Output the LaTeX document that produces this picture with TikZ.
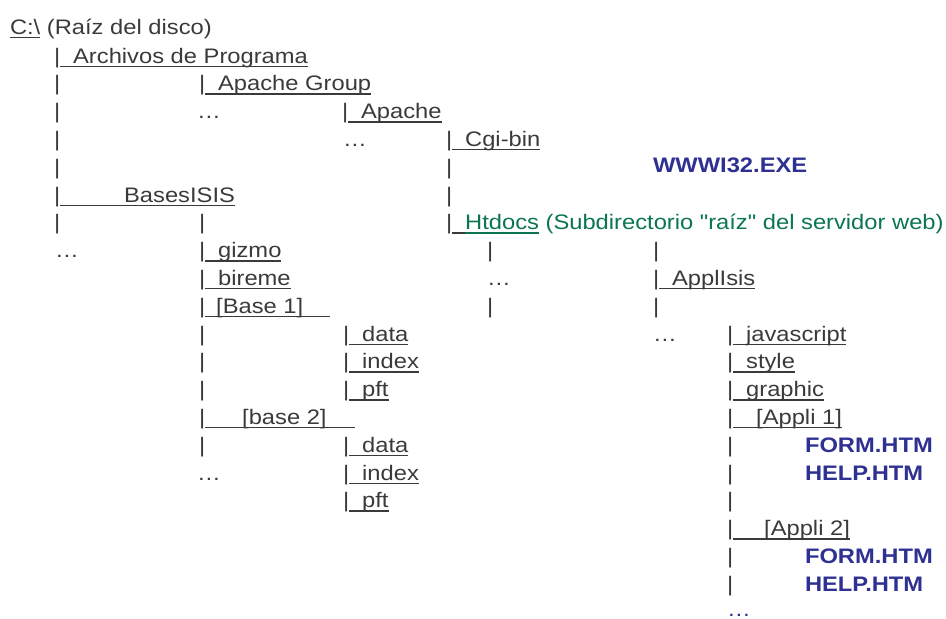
\documentclass[tikz,border=0pt]{standalone}
\usepackage{fontspec}
\setmainfont{Liberation Sans}[FakeStretch=1.13,Ligatures=TeXOff]
\definecolor{txt}{HTML}{3A3A3A}
\definecolor{blu}{HTML}{2E3192}
\definecolor{grn}{HTML}{0A7550}
\newsavebox\ulbox
\newcommand\ult[1]{\sbox\ulbox{#1}\rlap{\rule[-4pt]{\wd\ulbox}{1.5pt}}\usebox\ulbox}
\newcommand\ulr[1]{\rule[-4pt]{#1pt}{1.5pt}}
\begin{document}
\begin{tikzpicture}[x=1pt,y=-1pt,
  t/.style={anchor=base west,inner sep=0pt,outer sep=0pt,text=txt,font=\fontsize{21}{25}\selectfont},
  bl/.style={t,text=blu,font=\fontsize{21}{25}\selectfont\bfseries}]
\useasboundingbox (0,0) rectangle (946,619);
% row 0
\node[t] (c) at (10,34) {\ult{C:\textbackslash} (Raíz del disco)};
% row 1
\node[t] (r1a) at (54,63) {|\ulr{13}\ult{Archivos de Programa}};
% row 2
\node[t] (r2a) at (54,90.8) {|};
\node[t] (r2b) at (199,90.8) {|\ulr{13}\ult{Apache Group}};
% row 3
\node[t] (r3a) at (54,118.6) {|};
\node[t] (r3b) at (197,118.6) {…};
\node[t] (r3c) at (342,118.6) {|\ulr{13}\ult{Apache}};
% row 4
\node[t] (r4a) at (54,146.4) {|};
\node[t] (r4b) at (343,146.4) {…};
\node[t] (r4c) at (446,146.4) {|\ulr{13}\ult{Cgi-bin}};
% row 5
\node[t] (r5a) at (54,174.2) {|};
\node[t] (r5b) at (446,174.2) {|};
\node[bl] (www) at (653,172) {WWWI32.EXE};
% row 6
\node[t] (r6a) at (54,202) {|\ulr{64}\ult{BasesISIS}};
\node[t] (r6b) at (446,202) {|};
% row 7
\node[t] (r7a) at (54,229.8) {|};
\node[t] (r7b) at (199,229.8) {|};
\node[t] (r7c) at (446,229.8) {|\ulr{13}\textcolor{grn}{\ult{Htdocs} (Subdirectorio "raíz" del servidor web)}};
% row 8
\node[t] (r8a) at (55,257.6) {…};
\node[t] (r8b) at (199,257.6) {|\ulr{13}\ult{gizmo}};
\node[t] (r8c) at (487,257.6) {|};
\node[t] (r8d) at (653,257.6) {|};
% row 9
\node[t] (r9a) at (199,285.4) {|\ulr{13}\ult{bireme}};
\node[t] (r9b) at (487,285.4) {…};
\node[t] (r9c) at (653,285.4) {|\ulr{13}\ult{ApplIsis}};
% row 10
\node[t] (r10a) at (199,313.2) {|\ulr{11}\ult{[Base 1]}\ulr{27}};
\node[t] (r10b) at (487,313.2) {|};
\node[t] (r10c) at (653,313.2) {|};
% row 11
\node[t] (r11a) at (199,341) {|};
\node[t] (r11b) at (343,341) {|\ulr{13}\ult{data}};
\node[t] (r11c) at (653,341) {…};
\node[t] (r11d) at (727,341) {|\ulr{13}\ult{javascript}};
% row 12
\node[t] (r12a) at (199,368.8) {|};
\node[t] (r12b) at (343,368.8) {|\ulr{13}\ult{index}};
\node[t] (r12c) at (727,368.8) {|\ulr{13}\ult{style}};
% row 13
\node[t] (r13a) at (199,396.6) {|};
\node[t] (r13b) at (343,396.6) {|\ulr{13}\ult{pft}};
\node[t] (r13c) at (727,396.6) {|\ulr{13}\ult{graphic}};
% row 14
\node[t] (r14a) at (199,424.4) {|\ulr{37}\ult{[base 2]}\ulr{28}};
\node[t] (r14b) at (727,424.4) {|\ulr{23}\ult{[Appli 1]}};
% row 15
\node[t] (r15a) at (199,452.2) {|};
\node[t] (r15b) at (343,452.2) {|\ulr{13}\ult{data}};
\node[t] (r15c) at (727,452.2) {|};
\node[bl] (f1) at (805,452.2) {FORM.HTM};
% row 16
\node[t] (r16a) at (197,480) {…};
\node[t] (r16b) at (343,480) {|\ulr{13}\ult{index}};
\node[t] (r16c) at (727,480) {|};
\node[bl] (h1) at (805,480) {HELP.HTM};
% row 17
\node[t] (r17a) at (343,507.8) {|\ulr{13}\ult{pft}};
\node[t] (r17b) at (727,507.8) {|};
% row 18
\node[t] (r18a) at (727,535.6) {|\ulr{31}\ult{[Appli 2]}};
% row 19
\node[t] (r19a) at (727,563.4) {|};
\node[bl] (f2) at (805,563.4) {FORM.HTM};
% row 20
\node[t] (r20a) at (727,591.2) {|};
\node[bl] (h2) at (805,591.2) {HELP.HTM};
% row 21
\node[t,text=blu] (r21a) at (727,616) {…};
\end{tikzpicture}
\end{document}
